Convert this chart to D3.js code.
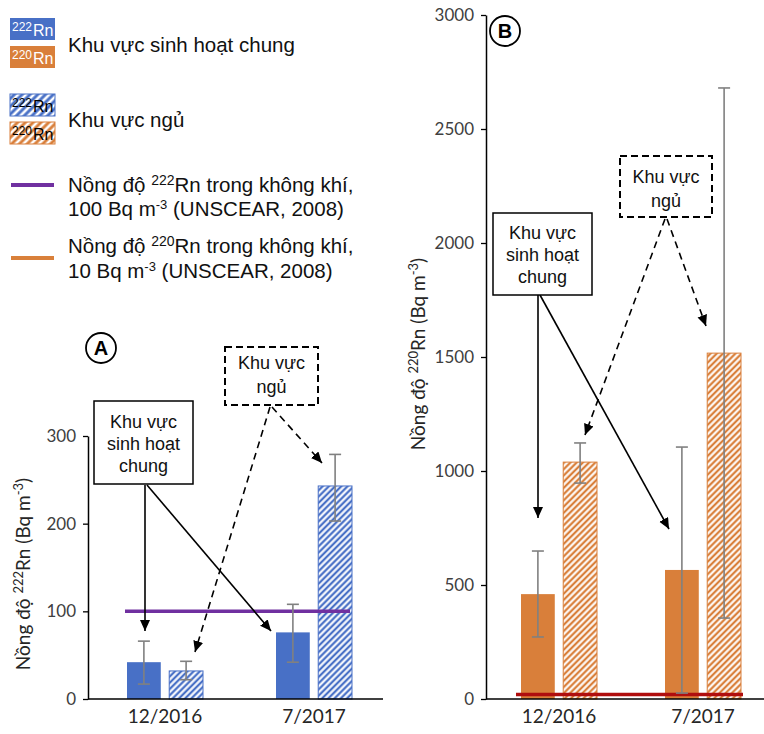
<!DOCTYPE html>
<html>
<head>
<meta charset="utf-8">
<script src="https://cdn.jsdelivr.net/npm/d3@7"></script>
<style>
  body { margin: 0; background: #fff; }
</style>
</head>
<body>
<div id="container"></div>
<script>
// data
const periods = ["12/2016", "7/2017"];
const zones = ["living", "sleep"];

// panel A, Rn-222 (Bq m-3)
const rn222Living = [42, 76];
const rn222LivingLow = [17, 42];
const rn222LivingHigh = [66, 108];
const rn222Sleep = [32, 243];
const rn222SleepLow = [22, 203];
const rn222SleepHigh = [43, 279];

// panel B, Rn-220 (Bq m-3)
const rn220Living = [460, 566];
const rn220LivingLow = [272, 26];
const rn220LivingHigh = [649, 1105];
const rn220Sleep = [1039, 1517];
const rn220SleepLow = [947, 355];
const rn220SleepHigh = [1123, 2680];

const ticksA = [0, 100, 200, 300];
const ticksB = [0, 500, 1000, 1500, 2000, 2500, 3000];
const ref222 = 100;
const ref220 = 20;   // drawn just above the axis in the picture

const blue = "#4870c6", orange = "#d97f3a";
const axisFont = "Lato, 'Open Sans', sans-serif";
const textFont = "'Liberation Sans', Arial, sans-serif";

const svg = d3.select("#container").append("svg")
    .attr("width", 764)
    .attr("height", 734);

const defs = svg.append("defs");

// hatch patterns
function hatch(id, color, size, stripe) {
  const p = defs.append("pattern")
    .attr("id", id)
    .attr("patternUnits", "userSpaceOnUse")
    .attr("width", size).attr("height", size)
    .attr("patternTransform", "rotate(45)");
  p.append("rect").attr("width", size).attr("height", size).attr("fill", color);
  p.append("line").attr("x1", size / 2).attr("y1", 0).attr("x2", size / 2).attr("y2", size)
    .attr("stroke", "#fff").attr("stroke-width", stripe);
}
hatch("hatch-blue", blue, 4.4, 2.1);
hatch("hatch-orange", orange, 4.4, 2.1);
hatch("hatch-blue-leg", blue, 5.5, 2.6);
hatch("hatch-orange-leg", orange, 5.5, 2.6);

defs.append("marker")
    .attr("id", "arrow")
    .attr("markerUnits", "userSpaceOnUse")
    .attr("markerWidth", 12).attr("markerHeight", 12)
    .attr("refX", 11).attr("refY", 5)
    .attr("orient", "auto")
  .append("path")
    .attr("d", "M0,0 L11,5 L0,10 Z")
    .attr("fill", "#000");

function rows(mean1, lo1, hi1, mean2, lo2, hi2) {
  return periods.flatMap((p, i) => [
    {period: p, zone: "living", v: mean1[i], lo: lo1[i], hi: hi1[i]},
    {period: p, zone: "sleep", v: mean2[i], lo: lo2[i], hi: hi2[i]}
  ]);
}

function drawPanel(o) {
  const g = svg.append("g");

  const x = d3.scaleBand().domain(periods).range(o.xRange);
  const x1 = d3.scaleBand().domain(zones).range([-38, 38]).paddingInner(0.2);
  const y = d3.scaleLinear().domain(o.yDomain).range(o.yRange);

  // bars
  g.selectAll("rect.bar")
    .data(o.data)
    .join("rect")
      .attr("class", "bar")
      .attr("x", d => x(d.period) + x.bandwidth() / 2 + x1(d.zone))
      .attr("y", d => y(d.v))
      .attr("width", x1.bandwidth())
      .attr("height", d => y(0) - y(d.v))
      .attr("fill", d => d.zone == "living" ? o.color : `url(#${o.hatch})`)
      .attr("stroke", d => d.zone == "living" ? "none" : o.color)
      .attr("stroke-width", 1);

  // reference line
  const first = o.data[0], last = o.data[o.data.length - 1];
  const lx0 = x(first.period) + x.bandwidth() / 2 + x1(first.zone) - o.refPad[0];
  const lx1 = x(last.period) + x.bandwidth() / 2 + x1(last.zone) + x1.bandwidth() + o.refPad[1];
  g.append("line")
    .attr("x1", lx0).attr("x2", lx1)
    .attr("y1", y(o.ref)).attr("y2", y(o.ref))
    .attr("stroke", o.refColor)
    .attr("stroke-width", 3.5);

  // error bars
  const eb = g.selectAll("g.err")
    .data(o.data)
    .join("g")
      .attr("class", "err")
      .attr("transform", d => `translate(${x(d.period) + x.bandwidth() / 2 + x1(d.zone) + x1.bandwidth() / 2},0)`)
      .attr("stroke", "#808080")
      .attr("stroke-width", 1.6);
  eb.append("line").attr("y1", d => y(d.lo)).attr("y2", d => y(d.hi));
  eb.append("line").attr("x1", -6).attr("x2", 6).attr("y1", d => y(d.hi)).attr("y2", d => y(d.hi));
  eb.append("line").attr("x1", -6).attr("x2", 6).attr("y1", d => y(d.lo)).attr("y2", d => y(d.lo));

  // y axis
  const ya = g.append("g")
    .attr("transform", `translate(${o.axisX},0)`)
    .call(d3.axisLeft(y).tickValues(o.ticks).tickSize(5).tickSizeOuter(0).tickFormat(d3.format("d")));
  ya.select(".domain").attr("stroke", "#000").attr("stroke-width", 1.5);
  ya.selectAll(".tick line").attr("stroke", "#000").attr("stroke-width", 1.3);
  ya.selectAll(".tick text")
    .attr("x", -12)
    .attr("fill", "#404040")
    .style("font-family", axisFont)
    .style("font-size", "17px");

  // x axis
  const xa = g.append("g")
    .attr("transform", `translate(0,${y(0)})`)
    .call(d3.axisBottom(x).tickSize(0));
  xa.select(".domain").remove();
  xa.selectAll(".tick text")
    .attr("dy", "1.1em")
    .attr("fill", "#262626")
    .style("font-family", axisFont)
    .style("font-size", "19px");
  g.append("line")
    .attr("x1", o.axisX).attr("x2", o.axisEnd)
    .attr("y1", y(0)).attr("y2", y(0))
    .attr("stroke", "#000").attr("stroke-width", 1.5);

  // y label
  const lab = g.append("text")
    .attr("transform", `translate(${o.labelX},${o.labelY}) rotate(-90)`)
    .attr("text-anchor", "middle")
    .attr("fill", "#262626")
    .style("font-family", axisFont)
    .style("font-size", "19px");
  lab.append("tspan").text("Nồng độ ");
  lab.append("tspan").attr("dy", -7).style("font-size", "13px").text(o.iso);
  lab.append("tspan").attr("dy", 7).text("Rn (Bq m");
  lab.append("tspan").attr("dy", -7).style("font-size", "13px").text("-3");
  lab.append("tspan").attr("dy", 7).text(")");

  return g;
}

drawPanel({
  data: rows(rn222Living, rn222LivingLow, rn222LivingHigh, rn222Sleep, rn222SleepLow, rn222SleepHigh),
  xRange: [90.5, 388.5], yDomain: [0, 300], yRange: [699, 436],
  ticks: ticksA, axisX: 88, axisEnd: 383,
  color: blue, hatch: "hatch-blue",
  ref: ref222, refColor: "#7030a0", refPad: [2, -2],
  iso: "222", labelX: 30, labelY: 574
});

drawPanel({
  data: rows(rn220Living, rn220LivingLow, rn220LivingHigh, rn220Sleep, rn220SleepLow, rn220SleepHigh),
  xRange: [487, 775], yDomain: [0, 3000], yRange: [699, 15],
  ticks: ticksB, axisX: 486, axisEnd: 764,
  color: orange, hatch: "hatch-orange",
  ref: ref220, refColor: "#b00e0e", refPad: [5, 2],
  iso: "220", labelX: 425, labelY: 354
});

// ---- annotations ----
function box(x, y, w, h, lines, dashed, baseY) {
  svg.append("rect")
    .attr("x", x).attr("y", y).attr("width", w).attr("height", h)
    .attr("fill", "#fff").attr("stroke", "#000")
    .attr("stroke-width", dashed ? 2 : 1.5)
    .attr("stroke-dasharray", dashed ? "7,4" : null);
  svg.append("g").selectAll("text")
    .data(lines)
    .join("text")
      .attr("x", x + w / 2)
      .attr("y", (d, i) => baseY + i * (dashed ? 24 : 22))
      .attr("text-anchor", "middle")
      .attr("fill", "#111")
      .style("font-family", textFont)
      .style("font-size", "18px")
      .text(d => d);
}

function arrow(x1, y1, x2, y2, dashed) {
  svg.append("line")
    .attr("x1", x1).attr("y1", y1).attr("x2", x2).attr("y2", y2)
    .attr("stroke", "#000").attr("stroke-width", 1.6)
    .attr("stroke-dasharray", dashed ? "7,5" : null)
    .attr("marker-end", "url(#arrow)");
}

function circleLabel(cx, cy, t) {
  svg.append("circle").attr("cx", cx).attr("cy", cy).attr("r", 15)
    .attr("fill", "#fff").attr("stroke", "#000").attr("stroke-width", 1.8);
  svg.append("text").attr("x", cx).attr("y", cy + 7)
    .attr("text-anchor", "middle")
    .style("font-family", textFont).style("font-weight", "bold").style("font-size", "20px")
    .text(t);
}

// panel A
arrow(145, 485, 145, 631, false);
arrow(147, 485, 271, 631, false);
arrow(270, 407, 195, 652, true);
arrow(272, 407, 322, 463, true);
box(94, 401, 99, 83, ["Khu vực", "sinh hoạt", "chung"], false, 428);
box(225, 347, 93, 58, ["Khu vực", "ngủ"], true, 369);
circleLabel(101, 348, "A");

// panel B
arrow(538, 295, 538, 518, false);
arrow(540, 295, 669, 529, false);
arrow(665, 219, 585, 435, true);
arrow(667, 219, 706, 326, true);
box(493, 213, 99, 82, ["Khu vực", "sinh hoạt", "chung"], false, 239);
box(620, 156, 92, 61, ["Khu vực", "ngủ"], true, 183);
circleLabel(505, 31, "B");

// ---- legend ----
const leg = svg.append("g").style("font-family", textFont);

function swatch(y, fill, stroke, iso, txtColor) {
  leg.append("rect").attr("x", 10).attr("y", y).attr("width", 45).attr("height", 22)
    .attr("fill", fill).attr("stroke", stroke);
  const t = leg.append("text").attr("x", 12).attr("y", y + 18).attr("fill", txtColor);
  t.append("tspan").attr("dy", -5).style("font-size", "12px").text(iso);
  t.append("tspan").attr("dy", 5).attr("dx", 1).style("font-size", "16px").text("Rn");
}
swatch(18, blue, "none", "222", "#fff");
swatch(46, orange, "none", "220", "#fff");
swatch(94, "url(#hatch-blue-leg)", blue, "222", "#000");
swatch(122, "url(#hatch-orange-leg)", orange, "220", "#000");

leg.append("text").attr("x", 68).attr("y", 52).style("font-size", "20.5px").attr("fill", "#111")
  .text("Khu vực sinh hoạt chung");
leg.append("text").attr("x", 68).attr("y", 127).style("font-size", "20.5px").attr("fill", "#111")
  .text("Khu vực ngủ");

function refEntry(y, color, iso, val, b1, b2) {
  leg.append("line").attr("x1", 11).attr("x2", 54).attr("y1", y).attr("y2", y)
    .attr("stroke", color).attr("stroke-width", 4);
  const t1 = leg.append("text").attr("x", 68).attr("y", b1).style("font-size", "20.5px").attr("fill", "#111");
  t1.append("tspan").text("Nồng độ ");
  t1.append("tspan").attr("dy", -7).style("font-size", "14px").text(iso);
  t1.append("tspan").attr("dy", 7).text("Rn trong không khí,");
  const t2 = leg.append("text").attr("x", 68).attr("y", b2).style("font-size", "20.5px").attr("fill", "#111");
  t2.append("tspan").text(val + " Bq m");
  t2.append("tspan").attr("dy", -7).style("font-size", "13px").text("-3");
  t2.append("tspan").attr("dy", 7).text(" (UNSCEAR, 2008)");
}
refEntry(185, "#7030a0", "222", "100", 192, 216);
refEntry(258, "#d9803a", "220", "10", 253, 278);
</script>
</body>
</html>
